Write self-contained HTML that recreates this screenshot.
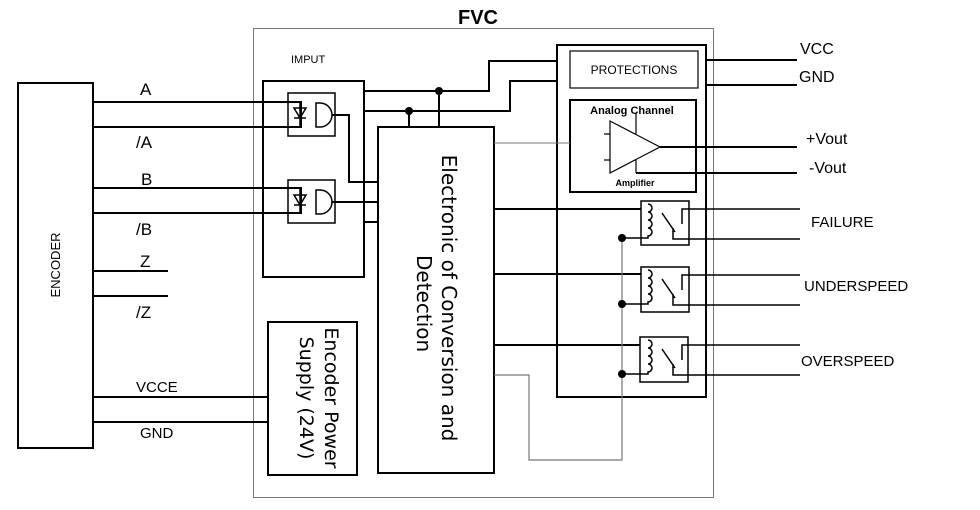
<!DOCTYPE html>
<html><head><meta charset="utf-8"><style>
html,body{margin:0;padding:0;background:#fff;}
svg{display:block;}
text{font-family:"Liberation Sans",sans-serif;fill:#000;}
</style></head><body>
<svg width="980" height="510" viewBox="0 0 980 510" xmlns="http://www.w3.org/2000/svg">
<defs>
<g id="relay" fill="none" stroke="#000" stroke-width="1.5">
<path d="M622 238H648V236a4 4 0 0 0 0-8a4 4 0 0 0 0-8a4 4 0 0 0 0-8a4 4 0 0 0 0-8H648V204"/>
<path d="M662 213L675 232M682 224V209H800M673 228V239H800"/>
</g>
</defs>
<g fill="none" stroke="#000" stroke-width="2">
<rect x="253.5" y="28.5" width="460" height="469" stroke="#777" stroke-width="1"/>
<rect x="18" y="83" width="75" height="365"/>
<path d="M93 102H301V127H93"/>
<path d="M93 188H301V213H93"/>
<path d="M93 271H168M93 296H168"/>
<path d="M93 397H268M93 422H268"/>
<rect x="263" y="81" width="101" height="196"/>
<rect x="288" y="93" width="47" height="43" stroke-width="1.5"/>
<rect x="288" y="180" width="47" height="43" stroke-width="1.5"/>
<path d="M294 108h12l-6 10z M294 118h12 M300 102v25" stroke-width="1.5"/>
<path d="M294 195h12l-6 10z M294 205h12 M300 188v25" stroke-width="1.5"/>
<path d="M316 103h4a12 12 0 0 1 0 24h-4z" stroke-width="1.5"/>
<path d="M316 190h4a12 12 0 0 1 0 24h-4z" stroke-width="1.5"/>
<path d="M332 115H349V182H378"/>
<path d="M332 202H378"/>
<path d="M364 222H378"/>
<path d="M364 91H489V61H557"/>
<path d="M364 111H510V81H557"/>
<path d="M439 91V127M409 111V127"/>
<rect x="378" y="127" width="116" height="346"/>
<rect x="268" y="322" width="89" height="153"/>
<rect x="557" y="45" width="149" height="352"/>
<rect x="570" y="51" width="128" height="37" stroke-width="1.2"/>
<rect x="570" y="100" width="126" height="92"/>
<path d="M610 121L660 147L610 173Z" stroke-width="1.2"/>
<path d="M604 134h6M604 160h6M636 113v21M636 160v13" stroke-width="1.2"/>
<path d="M660 147H797M636 173H797"/>
<path d="M706 60H797M706 85H797"/>
<path d="M494 143H570" stroke="#777" stroke-width="1"/>
<path d="M494 209H641M494 274H641M494 345H640"/>
<g stroke-width="1.5">
<rect x="641" y="201" width="48" height="44"/>
<rect x="641" y="267" width="48" height="45"/>
<rect x="640" y="337" width="48" height="45"/>
</g>
<path d="M622 238V460H529V375H494" stroke="#777" stroke-width="1.2"/>
</g>
<use href="#relay"/>
<use href="#relay" transform="translate(0,66)"/>
<use href="#relay" transform="translate(0,136)"/>
<g fill="#000">
<circle cx="439" cy="91" r="4"/><circle cx="409" cy="111" r="4"/>
<circle cx="622" cy="238" r="4"/><circle cx="622" cy="304" r="4"/><circle cx="622" cy="374" r="4"/>
</g>
<text x="478" y="24" font-size="20" font-weight="bold" text-anchor="middle">FVC</text>
<text x="291" y="63" font-size="11">IMPUT</text>
<text x="140" y="95" font-size="17">A</text>
<text x="136" y="148" font-size="17">/A</text>
<text x="141" y="185" font-size="17">B</text>
<text x="136" y="235" font-size="17">/B</text>
<text x="140" y="267" font-size="17">Z</text>
<text x="136" y="318" font-size="17">/Z</text>
<text x="136" y="392" font-size="15">VCCE</text>
<text x="140" y="438" font-size="15">GND</text>
<text transform="translate(60,265) rotate(-90)" font-size="13" text-anchor="middle">ENCODER</text>
<text transform="translate(442,298) rotate(90)" font-size="20" text-anchor="middle" style="font-family:'DejaVu Sans',sans-serif">Electronic of Conversion and</text>
<text transform="translate(417,300) rotate(90)" font-size="20" text-anchor="start" x="-45" style="font-family:'DejaVu Sans',sans-serif">Detection</text>
<text transform="translate(325,398) rotate(90)" font-size="19" text-anchor="middle" style="font-family:'DejaVu Sans',sans-serif">Encoder Power</text>
<text transform="translate(300,398) rotate(90)" font-size="19" text-anchor="middle" style="font-family:'DejaVu Sans',sans-serif">Supply (24V)</text>
<text x="634" y="74" font-size="12" text-anchor="middle">PROTECTIONS</text>
<text x="632" y="114" font-size="11" font-weight="bold" text-anchor="middle">Analog Channel</text>
<text x="635" y="186" font-size="9" font-weight="bold" text-anchor="middle">Amplifier</text>
<text x="800" y="54" font-size="16">VCC</text>
<text x="799" y="82" font-size="16">GND</text>
<text x="806" y="144" font-size="16">+Vout</text>
<text x="809" y="173" font-size="16">-Vout</text>
<text x="811" y="227" font-size="15">FAILURE</text>
<text x="804" y="291" font-size="15">UNDERSPEED</text>
<text x="801" y="366" font-size="15">OVERSPEED</text>
</svg>
</body></html>
